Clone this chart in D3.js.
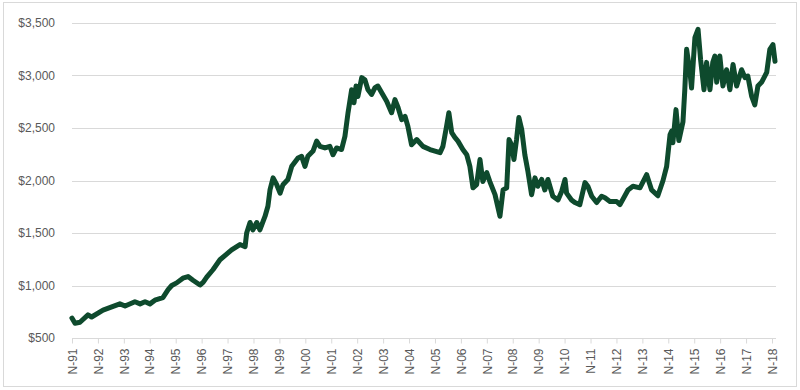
<!DOCTYPE html>
<html>
<head>
<meta charset="utf-8">
<script src="https://cdn.jsdelivr.net/npm/d3@7"></script>
<style>
  body { margin: 0; background: #fff; }
  svg { display: block; font-family: Lato, "Open Sans", sans-serif; }
  .grid line { stroke: #d9d9d9; stroke-width: 1; }
  .axis text { fill: #595959; font-size: 12px; }
</style>
</head>
<body>
<svg></svg>
<script>

// time as decimal year, values in dollars
var years = [
  1991.83, 1991.95, 1992.14, 1992.45, 1992.59, 1993.03, 1993.68, 1993.88, 1994.26, 1994.46,
  1994.65, 1994.84, 1995.03, 1995.34, 1995.54, 1995.68, 1995.87, 1996.11, 1996.31, 1996.50,
  1996.77, 1996.89, 1997.03, 1997.27, 1997.54, 1997.99, 1998.31, 1998.51, 1998.57, 1998.70,
  1998.81, 1998.96, 1999.08, 1999.28, 1999.39, 1999.47, 1999.59, 1999.73, 1999.86, 1999.97,
  2000.16, 2000.31, 2000.55, 2000.69, 2000.82, 2000.93, 2001.13, 2001.27, 2001.40, 2001.59,
  2001.78, 2001.90, 2002.04, 2002.23, 2002.36, 2002.48, 2002.62, 2002.71, 2002.79, 2002.86,
  2003.01, 2003.13, 2003.25, 2003.39, 2003.52, 2003.63, 2003.78, 2003.97, 2004.16, 2004.29,
  2004.41, 2004.55, 2004.68, 2004.79, 2004.93, 2005.13, 2005.37, 2005.64, 2006.03, 2006.14,
  2006.28, 2006.37, 2006.48, 2006.60, 2006.72, 2006.91, 2007.06, 2007.18, 2007.30, 2007.44,
  2007.57, 2007.68, 2007.83, 2007.95, 2008.15, 2008.34, 2008.46, 2008.60, 2008.69, 2008.79,
  2008.88, 2008.98, 2009.07, 2009.18, 2009.30, 2009.42, 2009.56, 2009.69, 2009.80, 2009.95,
  2010.07, 2010.19, 2010.38, 2010.58, 2010.72, 2010.85, 2010.91, 2011.10, 2011.23, 2011.42,
  2011.62, 2011.73, 2011.88, 2012.07, 2012.26, 2012.39, 2012.58, 2012.84, 2012.97, 2013.28,
  2013.47, 2013.74, 2014.00, 2014.19, 2014.43, 2014.63, 2014.77, 2014.90, 2014.96, 2015.01,
  2015.13, 2015.24, 2015.40, 2015.47, 2015.54, 2015.67, 2015.73, 2015.86, 2015.98, 2016.08,
  2016.21, 2016.31, 2016.44, 2016.55, 2016.63, 2016.70, 2016.82, 2016.94, 2017.08, 2017.21,
  2017.33, 2017.47, 2017.66, 2017.79, 2017.90, 2018.05, 2018.17, 2018.29, 2018.43, 2018.63,
  2018.75, 2018.87, 2018.95
];

var values = [
  690, 640, 650, 720, 700, 765, 825, 805, 845, 825,
  845, 825, 860, 885, 960, 1000, 1025, 1070, 1085, 1050,
  1005, 1030, 1080, 1150, 1245, 1340, 1390, 1370, 1500, 1600,
  1530, 1600, 1530, 1660, 1755, 1910, 2025, 1960, 1880, 1960,
  2010, 2135, 2215, 2230, 2135, 2230, 2280, 2375, 2325, 2310,
  2325, 2245, 2310, 2295, 2420, 2645, 2865, 2740, 2900, 2800,
  2980, 2960, 2865, 2820, 2885, 2900, 2835, 2755, 2645, 2770,
  2695, 2580, 2610, 2515, 2340, 2390, 2325, 2295, 2265, 2325,
  2515, 2645, 2455, 2410, 2375, 2295, 2245, 2135, 1930, 1960,
  2200, 1990, 2075, 1990, 1865, 1660, 1910, 1930, 2390, 2340,
  2200, 2390, 2600, 2485, 2245, 2085, 1865, 2025, 1945, 2010,
  1910, 2010, 1850, 1815, 1895, 2010, 1880, 1815, 1790, 1770,
  1980, 1945, 1850, 1790, 1850, 1835, 1800, 1800, 1770, 1910,
  1945, 1930, 2055, 1910, 1855, 2000, 2135, 2435, 2470, 2360,
  2675, 2380, 2560, 2865, 3250, 3030, 2880, 3360, 3440, 3150,
  2865, 3125, 2865, 3125, 3185, 2935, 3185, 2900, 3055, 2865,
  3105, 2900, 3055, 2980, 2995, 2800, 2720, 2900, 2935, 3030,
  3250, 3295, 3135
];

var tickYears = d3.range(1991, 2019).map(function (y) { return y + 10 / 12; });
var tickLabels = d3.range(1991, 2019).map(function (y) { return "N-" + String(y).slice(2); });
var yTicks = [500, 1000, 1500, 2000, 2500, 3000, 3500];

var data = years.map(function (t, i) { return { t: t, v: values[i] }; });

var svg = d3.select('svg')
  .attr('width', 800)
  .attr('height', 390);

// chart border
svg.append('rect')
  .attr('x', 3.5)
  .attr('y', 2.5)
  .attr('width', 793)
  .attr('height', 384)
  .attr('fill', 'none')
  .attr('stroke', '#d9d9d9');

var x = d3.scaleLinear()
  .domain([tickYears[0], tickYears[tickYears.length - 1]])
  .range([72, 772]);

var y = d3.scaleLinear()
  .domain([500, 3500])
  .range([338, 23]);

// gridlines
svg.append('g')
  .attr('class', 'grid')
  .selectAll('line')
  .data(yTicks.slice(1))
  .enter()
  .append('line')
  .attr('x1', 72)
  .attr('x2', 776)
  .attr('y1', function (d) { return Math.round(y(d)) + 0.5; })
  .attr('y2', function (d) { return Math.round(y(d)) + 0.5; });

// y axis labels
var yAxis = svg.append('g')
  .attr('class', 'axis')
  .attr('transform', 'translate(72,0)')
  .call(d3.axisLeft(y)
    .tickValues(yTicks)
    .tickSize(0)
    .tickPadding(17)
    .tickFormat(d3.format('$,')));
yAxis.select('.domain').remove();

// x axis
var xAxis = svg.append('g')
  .attr('class', 'axis')
  .attr('transform', 'translate(0,' + (Math.round(y(500)) + 0.5) + ')')
  .call(d3.axisBottom(x)
    .tickValues(tickYears)
    .tickSize(5)
    .tickSizeOuter(0)
    .tickFormat(function (d, i) { return tickLabels[i]; }));

xAxis.select('.domain')
  .attr('stroke', '#d9d9d9')
  .attr('d', 'M72,0H776');
xAxis.selectAll('.tick line').attr('stroke', '#d9d9d9');
xAxis.selectAll('.tick text')
  .attr('transform', 'rotate(-90)')
  .attr('text-anchor', 'end')
  .attr('x', -10)
  .attr('y', 0)
  .attr('dy', '0.35em');

// price line
var line = d3.line()
  .x(function (d) { return x(d.t); })
  .y(function (d) { return y(d.v); });

svg.append('path')
  .datum(data)
  .attr('fill', 'none')
  .attr('stroke', '#0e4a2d')
  .attr('stroke-width', 5)
  .attr('stroke-linejoin', 'round')
  .attr('stroke-linecap', 'round')
  .attr('d', line);

</script>
</body>
</html>
